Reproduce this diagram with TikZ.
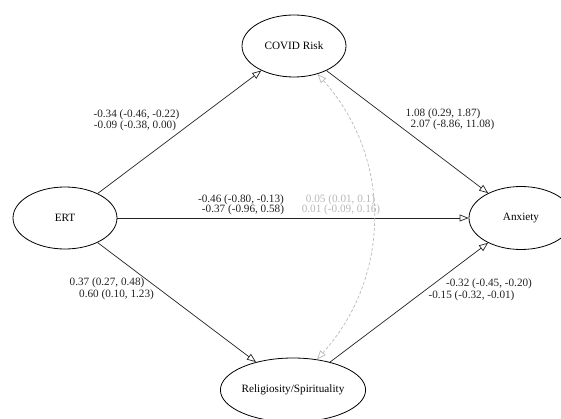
\documentclass[tikz,border=0pt]{standalone}
\usepackage{fontspec}
\setmainfont{Liberation Serif}
\usetikzlibrary{shapes.geometric,arrows.meta}
\definecolor{edgec}{HTML}{222222}
\definecolor{lightg}{HTML}{B8B8B8}
\tikzset{
  lat/.style={ellipse,draw=black,line width=0.8pt,inner sep=0pt,font=\fontsize{11.2}{13}\selectfont},
  path/.style={draw=edgec,line width=0.7pt,-{Triangle[open,length=9pt,width=7pt]}},
  cov/.style={draw=lightg,line width=0.7pt,dashed,dash pattern=on 3pt off 2pt,{Triangle[open,length=9pt,width=7pt]}-{Triangle[open,length=9pt,width=7pt]}},
  lab/.style={inner sep=0pt,font=\fontsize{11.2}{13}\selectfont,text=edgec},
  glab/.style={inner sep=0pt,font=\fontsize{11.2}{13}\selectfont,text=lightg}
}
\begin{document}
\begin{tikzpicture}[x=1pt,y=1pt]
\useasboundingbox (0,0) rectangle (561,418);
\node[lat,minimum width=104pt,minimum height=62pt] (covid) at (294,372) {COVID Risk};
\node[lat,minimum width=104pt,minimum height=62pt] (ert) at (65,200) {ERT};
\node[lat,minimum width=104pt,minimum height=63pt] (anx) at (521,200) {Anxiety};
\node[lat,minimum width=120pt,minimum height=64pt] (relig) at (293,28) {Religiosity/Spirituality};

\draw[path] (ert) -- (covid);
\draw[path] (covid) -- (anx);
\draw[path] (ert) -- (anx);
\draw[path] (ert) -- (relig);
\draw[path] (relig) -- (anx);
\draw[cov] (covid.-50) to[bend left=42] (relig.52);

\node[lab] (l1a) at (136.5,303) {-0.34 (-0.46, -0.22)};
\node[lab] (l1b) at (135,292) {-0.09 (-0.38, 0.00)};
\node[lab] (l2a) at (443,304) {1.08 (0.29, 1.87)};
\node[lab] (l2b) at (452.5,293) {2.07 (-8.86, 11.08)};
\node[lab] (l3a) at (241,218) {-0.46 (-0.80, -0.13)};
\node[lab] (l3b) at (243,208) {-0.37 (-0.96, 0.58)};
\node[glab] (g1) at (340.5,218) {0.05 (0.01, 0.1)};
\node[glab] (g2) at (341,208) {0.01 (-0.09, 0.16)};
\node[lab] (l4a) at (107,135) {0.37 (0.27, 0.48)};
\node[lab] (l4b) at (116.5,123) {0.60 (0.10, 1.23)};
\node[lab] (l5a) at (489,134) {-0.32 (-0.45, -0.20)};
\node[lab] (l5b) at (471.5,122) {-0.15 (-0.32, -0.01)};
\end{tikzpicture}
\end{document}
